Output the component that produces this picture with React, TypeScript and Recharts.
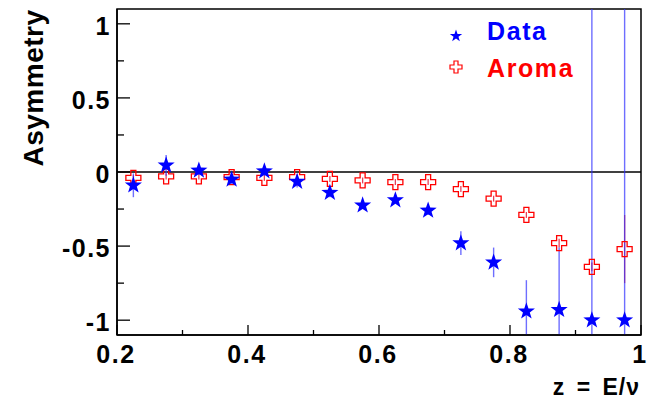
import React from "react";
import { ErrorBar, Label, Legend, ReferenceArea, ReferenceLine, Scatter, ScatterChart, XAxis, YAxis } from "recharts";

const zBins = [0.225, 0.275, 0.325, 0.375, 0.425, 0.475, 0.525, 0.575, 0.625, 0.675, 0.725, 0.775, 0.825, 0.875, 0.925, 0.975];
const dataAsym = [-0.09, 0.045, 0.01, -0.05, 0.005, -0.065, -0.14, -0.225, -0.19, -0.26, -0.48, -0.61, -0.94, -0.93, -1.0, -1.0];
const dataErr = [0.08, 0.07, 0.03, 0.03, 0.03, 0.04, 0.03, 0.02, 0.02, 0.03, 0.08, 0.1, 0.21, 0.42, 3, 3];
const aromaAsym = [-0.04, -0.03, -0.03, -0.035, -0.04, -0.035, -0.047, -0.057, -0.068, -0.068, -0.115, -0.18, -0.29, -0.48, -0.64, -0.52];
const aromaErr = [0.02, 0.02, 0.02, 0.02, 0.02, 0.02, 0.02, 0.02, 0.02, 0.02, 0.02, 0.02, 0.02, 0.03, 0.03, 0.23];

const xTicks = [0.2, 0.3, 0.4, 0.5, 0.6, 0.7, 0.8, 0.9, 1];
const xLabels = [0.2, 0.4, 0.6, 0.8, 1];
const yTicks = [-1, -0.75, -0.5, -0.25, 0, 0.25, 0.5, 0.75, 1];
const yLabels = [-1, -0.5, 0, 0.5, 1];
const yRange = [-1.1, 1.1];

const FONT = "'Liberation Sans', Arial, Helvetica, sans-serif";

const dataPoints = zBins.map((z, i) => ({ z, a: dataAsym[i], err: dataErr[i] }));
const aromaPoints = zBins.map((z, i) => ({ z, a: aromaAsym[i], err: aromaErr[i] }));

// error bars are cut at the frame, like the histogram drawing does
const clippedErr = (d: any) => [Math.min(d.err, d.a - yRange[0]), Math.min(d.err, yRange[1] - d.a)];

const starPath = (cx: number, cy: number, R: number, r: number) => {
  let d = "";
  for (let k = 0; k < 10; k++) {
    const rad = k % 2 === 0 ? R : r;
    const ang = -Math.PI / 2 + (k * Math.PI) / 5;
    d += (k === 0 ? "M" : "L") + (cx + rad * Math.cos(ang)).toFixed(2) + "," + (cy + rad * Math.sin(ang)).toFixed(2);
  }
  return d + "Z";
};

const crossPath = (cx: number, cy: number, L: number, w: number) =>
  `M${cx - w},${cy - L}H${cx + w}V${cy - w}H${cx + L}V${cy + w}H${cx + w}V${cy + L}H${cx - w}V${cy + w}H${cx - L}V${cy - w}H${cx - w}Z`;

const StarShape = (p: any) => <path d={starPath(p.cx, p.cy, 9, 3.6)} fill="#0000ff" />;
const CrossShape = (p: any) => <path d={crossPath(p.cx, p.cy, 7.5, 2.5)} fill="none" stroke="#ff0000" strokeWidth={1.3} />;

const XTick = (p: any) => {
  const v = p.payload.value;
  const major = xLabels.some((m) => Math.abs(m - v) < 1e-6);
  return (
    <g>
      <line x1={p.x} x2={p.x} y1={p.y} y2={p.y - (major ? 10 : 5)} stroke="#000" strokeWidth={1.3} />
      {major && (
        <text x={p.x - 1} y={p.y + 28} textAnchor="middle" fontFamily={FONT} fontWeight="bold" fontSize={25} letterSpacing={1.5} fill="#000">
          {String(v)}
        </text>
      )}
    </g>
  );
};

const YTick = (p: any) => {
  const v = p.payload.value;
  const major = yLabels.some((m) => Math.abs(m - v) < 1e-6);
  return (
    <g>
      <line x1={p.x} x2={p.x + (major ? 13 : 7)} y1={p.y} y2={p.y} stroke="#000" strokeWidth={1.3} />
      {major && (
        <text x={p.x - 6} y={p.y + 11} textAnchor="end" fontFamily={FONT} fontWeight="bold" fontSize={25} letterSpacing={1.5} fill="#000">
          {String(v)}
        </text>
      )}
    </g>
  );
};

const LegendBox = () => (
  <svg width={648} height={100} style={{ display: "block" }}>
    <path d={starPath(456, 36, 6.5, 2.6)} fill="#0000ff" />
    <text x={487} y={40} fontFamily={FONT} fontWeight="bold" fontSize={25} letterSpacing={1.6} fill="#0000ff">
      Data
    </text>
    <path d={crossPath(456, 67, 6, 2)} fill="none" stroke="#ff0000" strokeWidth={1.2} />
    <text x={487} y={77} fontFamily={FONT} fontWeight="bold" fontSize={25} letterSpacing={1.6} fill="#ff0000">
      Aroma
    </text>
  </svg>
);

export default function App() {
  return (
    <div style={{ position: "absolute", left: 0, top: 0, background: "#fff" }}>
      <ScatterChart width={648} height={400} margin={{ top: 9, right: 7, bottom: 1, left: 0 }}>
        <XAxis
          type="number"
          dataKey="z"
          domain={[0.2, 1]}
          ticks={xTicks}
          allowDataOverflow
          height={64}
          tickSize={0}
          tickMargin={0}
          tickLine={false}
          tick={<XTick />}
          axisLine={{ stroke: "#000", strokeWidth: 1.5 }}
          interval={0}
        >
          <Label
            content={(p: any) => (
              <text
                x={p.viewBox.x + p.viewBox.width - 1}
                y={p.viewBox.y + 60}
                textAnchor="end"
                fontFamily={FONT}
                fontWeight="bold"
                fontSize={23}
                letterSpacing={1}
                wordSpacing={4}
                fill="#000"
              >
                z = E/ν
              </text>
            )}
          />
        </XAxis>
        <YAxis
          type="number"
          dataKey="a"
          domain={yRange}
          ticks={yTicks}
          allowDataOverflow
          width={117}
          tickSize={0}
          tickMargin={0}
          tickLine={false}
          tick={<YTick />}
          axisLine={{ stroke: "#000", strokeWidth: 1.5 }}
          interval={0}
        >
          <Label
            content={(p: any) => {
              const x = p.viewBox.x + 43;
              const y = p.viewBox.y + 79;
              return (
                <text
                  x={x}
                  y={y}
                  transform={`rotate(-90, ${x}, ${y})`}
                  textAnchor="middle"
                  fontFamily={FONT}
                  fontWeight="bold"
                  fontSize={28}
                  letterSpacing={0.5}
                  fill="#000"
                >
                  Asymmetry
                </text>
              );
            }}
          />
        </YAxis>
        <ReferenceArea x1={0.2} x2={1} y1={-1.1} y2={1.1} fill="none" stroke="#000" strokeWidth={1.5} fillOpacity={0} />
        <ReferenceLine y={0} stroke="#000" strokeWidth={1.5} />
        <Scatter name="Aroma" data={aromaPoints} shape={<CrossShape />} isAnimationActive={false}>
          <ErrorBar dataKey={clippedErr} direction="y" width={0} stroke="#e00020" strokeWidth={1.3} strokeOpacity={0.75} />
        </Scatter>
        <Scatter name="Data" data={dataPoints} shape={<StarShape />} isAnimationActive={false}>
          <ErrorBar dataKey={clippedErr} direction="y" width={0} stroke="#3030ff" strokeWidth={1.4} strokeOpacity={0.7} />
        </Scatter>
        <Legend
          layout="horizontal"
          verticalAlign="middle"
          align="center"
          content={() => <LegendBox />}
          wrapperStyle={{ position: "absolute", top: 0, left: 0, width: 648, height: 100, pointerEvents: "none" }}
        />
      </ScatterChart>
    </div>
  );
}
